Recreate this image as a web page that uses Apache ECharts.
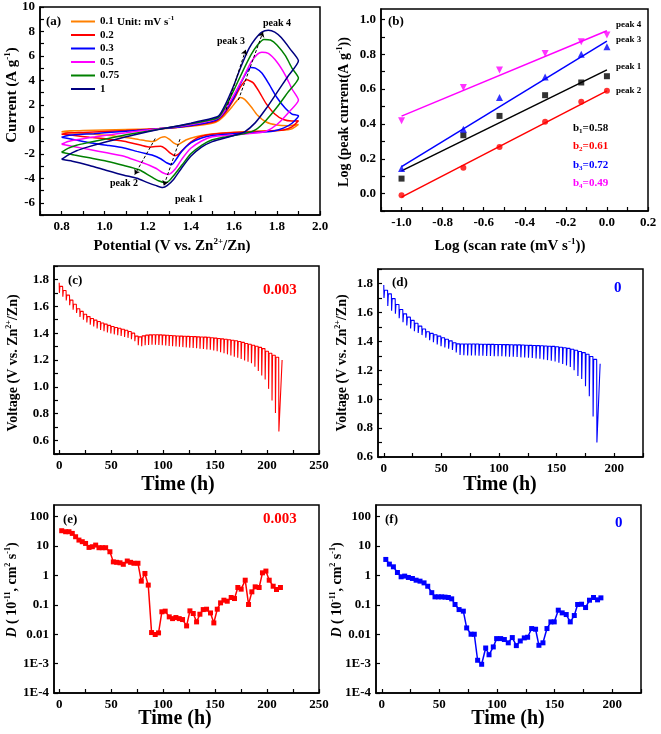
<!DOCTYPE html>
<html><head><meta charset="utf-8">
<script src="https://cdn.jsdelivr.net/npm/echarts@6/dist/echarts.min.js"></script>
<style>html,body{margin:0;padding:0;background:#fff}#c{width:661px;height:734px}</style>
</head><body><div id="c"></div>
<script>
// ---------------- (a) CV curves [potential V, current A/g] ----------------
const cvNames = ['0.1', '0.2', '0.3', '0.5', '0.75', '1'];
const cv01 = [[0.8,-0.2],[0.84,-0.12],[0.9,-0.1],[1.0,-0.06],[1.1,-0.02],[1.2,0.03],[1.3,0.1],[1.4,0.25],[1.5,0.5],[1.53,0.72],[1.56,1.2],[1.59,1.8],[1.61,2.25],[1.63,2.6],[1.65,2.45],[1.68,1.85],[1.71,1.15],[1.75,0.6],[1.8,0.35],[1.85,0.3],[1.9,0.4],
  [1.87,0.05],[1.82,-0.08],[1.75,-0.12],[1.65,-0.2],[1.55,-0.3],[1.47,-0.45],[1.42,-0.62],[1.38,-0.85],[1.355,-1.1],[1.342,-1.25],[1.32,-1.1],[1.3,-0.8],[1.28,-0.6],[1.26,-0.68],[1.24,-0.9],[1.225,-1.0],[1.2,-0.95],[1.16,-0.84],[1.09,-0.65],[1.01,-0.49],[0.93,-0.35],[0.86,-0.27],[0.8,-0.2]];
const cv02 = [[0.8,-0.4],[0.83,-0.3],[0.9,-0.25],[1.0,-0.17],[1.1,-0.1],[1.2,0.0],[1.3,0.12],[1.4,0.3],[1.5,0.58],[1.53,0.82],[1.56,1.35],[1.6,2.45],[1.63,3.45],[1.66,4.05],[1.69,3.8],[1.72,3.0],[1.75,2.1],[1.79,1.25],[1.83,0.8],[1.87,0.68],[1.9,0.7],
  [1.87,0.2],[1.83,-0.05],[1.75,-0.15],[1.6,-0.25],[1.5,-0.4],[1.44,-0.62],[1.4,-1.05],[1.37,-1.55],[1.345,-2.0],[1.327,-2.15],[1.305,-1.95],[1.28,-1.55],[1.26,-1.38],[1.235,-1.4],[1.21,-1.45],[1.17,-1.3],[1.09,-0.97],[1.01,-0.78],[0.93,-0.65],[0.86,-0.5],[0.8,-0.4]];
const cv03 = [[0.8,-0.65],[0.83,-0.5],[0.88,-0.42],[0.95,-0.35],[1.05,-0.22],[1.15,-0.1],[1.25,0.05],[1.35,0.2],[1.45,0.45],[1.5,0.65],[1.53,0.9],[1.56,1.5],[1.6,2.6],[1.63,3.7],[1.66,4.7],[1.68,5.05],[1.7,5.0],[1.73,4.6],[1.76,3.8],[1.8,2.6],[1.84,1.7],[1.87,1.25],[1.9,1.1],
  [1.87,0.5],[1.83,0.1],[1.78,-0.15],[1.7,-0.25],[1.6,-0.35],[1.5,-0.5],[1.45,-0.7],[1.4,-1.1],[1.36,-1.75],[1.33,-2.5],[1.312,-2.87],[1.29,-2.75],[1.26,-2.4],[1.22,-2.1],[1.195,-2.0],[1.15,-1.8],[1.09,-1.52],[1.01,-1.3],[0.93,-1.1],[0.86,-0.85],[0.8,-0.65]];
const cv05 = [[0.8,-1.22],[0.83,-1.0],[0.87,-0.85],[0.92,-0.7],[1.0,-0.5],[1.1,-0.28],[1.2,-0.05],[1.3,0.15],[1.4,0.4],[1.5,0.75],[1.53,0.95],[1.56,1.6],[1.6,2.8],[1.64,4.1],[1.68,5.5],[1.71,6.15],[1.73,6.3],[1.76,6.2],[1.8,5.5],[1.84,4.4],[1.87,3.3],[1.9,2.4],
  [1.85,1.3],[1.8,0.4],[1.75,-0.15],[1.7,-0.3],[1.6,-0.45],[1.5,-0.6],[1.45,-0.95],[1.4,-1.55],[1.36,-2.4],[1.33,-3.2],[1.296,-3.69],[1.27,-3.55],[1.24,-3.2],[1.21,-2.95],[1.18,-2.75],[1.13,-2.45],[1.09,-2.2],[1.01,-1.92],[0.93,-1.65],[0.86,-1.42],[0.8,-1.22]];
const cv075 = [[0.8,-1.87],[0.83,-1.55],[0.87,-1.3],[0.92,-1.1],[1.0,-0.8],[1.1,-0.45],[1.2,-0.15],[1.3,0.15],[1.4,0.45],[1.5,0.8],[1.53,1.0],[1.56,1.8],[1.6,3.2],[1.64,4.7],[1.68,6.1],[1.71,6.9],[1.74,7.35],[1.77,7.3],[1.8,6.9],[1.84,6.0],[1.87,5.0],[1.9,4.2],
  [1.85,3.0],[1.8,1.8],[1.75,0.75],[1.7,-0.05],[1.65,-0.35],[1.6,-0.5],[1.55,-0.65],[1.5,-0.85],[1.45,-1.3],[1.4,-2.0],[1.36,-2.9],[1.32,-3.8],[1.3,-4.2],[1.283,-4.35],[1.25,-4.2],[1.21,-3.8],[1.16,-3.3],[1.09,-2.95],[1.01,-2.6],[0.93,-2.33],[0.86,-2.1],[0.8,-1.87]];
const cv1 = [[0.8,-2.45],[0.83,-2.1],[0.87,-1.75],[0.92,-1.45],[1.0,-1.05],[1.1,-0.6],[1.2,-0.2],[1.3,0.15],[1.4,0.5],[1.5,0.9],[1.53,1.1],[1.56,2.0],[1.6,3.6],[1.63,5.0],[1.67,6.6],[1.7,7.4],[1.73,7.95],[1.76,8.1],[1.79,7.95],[1.82,7.5],[1.86,6.6],[1.9,5.6],
  [1.85,4.3],[1.8,3.0],[1.75,1.7],[1.7,0.55],[1.65,-0.2],[1.6,-0.5],[1.55,-0.75],[1.5,-1.0],[1.45,-1.45],[1.4,-2.2],[1.36,-3.1],[1.32,-4.1],[1.29,-4.6],[1.27,-4.75],[1.24,-4.6],[1.2,-4.35],[1.15,-4.0],[1.09,-3.75],[1.01,-3.36],[0.93,-2.95],[0.85,-2.6],[0.8,-2.45]];
const peakArrows = [[[1.564,1.6],[1.655,6.5]], [[1.621,2.4],[1.735,7.95]], [[1.35,-0.8],[1.275,-4.6]], [[1.235,-0.75],[1.14,-3.7]]];
const aXLabels = [0.8,1.0,1.2,1.4,1.6,1.8,2.0];
const aXTicks = [0.7,0.8,0.9,1.0,1.1,1.2,1.3,1.4,1.5,1.6,1.7,1.8,1.9,2.0];
const aYLabels = [-6,-4,-2,0,2,4,6,8,10];
const aYTicks = [-7,-6,-5,-4,-3,-2,-1,0,1,2,3,4,5,6,7,8,9,10];

// ---------------- (b) log peak current vs log scan rate ----------------
const logScan = [-1, -0.699, -0.523, -0.301, -0.125, 0];
const peak1Log = [0.086, 0.335, 0.446, 0.565, 0.638, 0.674];
const peak2Log = [-0.01, 0.149, 0.268, 0.412, 0.527, 0.59];
const peak3Log = [0.144, 0.37, 0.552, 0.67, 0.80, 0.843];
const peak4Log = [0.418, 0.609, 0.709, 0.805, 0.872, 0.91];
const bSlope = [0.58, 0.61, 0.72, 0.49];
const bIntercept = [0.71, 0.59, 0.875, 0.935];
const bXLabels = [-1.0,-0.8,-0.6,-0.4,-0.2,0.0,0.2];
const bXTicks = [-1.1,-1.0,-0.9,-0.8,-0.7,-0.6,-0.5,-0.4,-0.3,-0.2,-0.1,0.0,0.1,0.2];
const bYLabels = [0.0,0.2,0.4,0.6,0.8,1.0];
const bYTicks = [-0.1,0.0,0.1,0.2,0.3,0.4,0.5,0.6,0.7,0.8,0.9,1.0];

// ---------------- (c)/(d) GITT voltage profiles ----------------
const pulseTimes = [0,3.3,6.6,9.9,13.2,16.5,19.8,23.1,26.4,29.7,33,36.3,39.6,42.9,46.2,49.5,52.8,56.1,59.4,62.7,66,69.3,72.6,75.9,79.2,82.5,85.8,89.1,92.4,95.7,99,102.3,105.6,108.9,112.2,115.5,118.8,122.1,125.4,128.7,132,135.3,138.6,141.9,145.2,148.5,151.8,155.1,158.4,161.7,165,168.3,171.6,174.9,178.2,181.5,184.8,188.1,191.4,194.7,198,201.3,204.6,207.9,211.2];
const cUpper = [1.775,1.748,1.718,1.683,1.646,1.615,1.582,1.562,1.541,1.523,1.509,1.497,1.487,1.476,1.467,1.458,1.449,1.442,1.436,1.429,1.421,1.412,1.400,1.378,1.372,1.38,1.385,1.387,1.388,1.388,1.387,1.385,1.384,1.382,1.381,1.379,1.378,1.377,1.376,1.375,1.374,1.372,1.371,1.370,1.369,1.366,1.363,1.360,1.357,1.354,1.351,1.347,1.343,1.338,1.331,1.323,1.317,1.310,1.302,1.294,1.285,1.265,1.25,1.235,1.22];
const cLower = [1.70,1.672,1.643,1.608,1.574,1.551,1.52,1.50,1.479,1.462,1.449,1.435,1.424,1.414,1.405,1.398,1.391,1.385,1.379,1.372,1.365,1.355,1.34,1.31,1.303,1.31,1.312,1.313,1.313,1.312,1.31,1.308,1.305,1.303,1.300,1.298,1.296,1.294,1.292,1.29,1.287,1.284,1.282,1.279,1.276,1.271,1.265,1.258,1.251,1.242,1.234,1.225,1.217,1.208,1.197,1.187,1.176,1.150,1.118,1.085,1.055,0.985,0.898,0.806,0.667];
const cEnd = [214.5, 1.2];
const dUpper = [1.79,1.753,1.728,1.695,1.655,1.62,1.59,1.567,1.545,1.525,1.505,1.485,1.466,1.455,1.445,1.436,1.425,1.414,1.403,1.39,1.382,1.381,1.381,1.381,1.381,1.381,1.380,1.380,1.379,1.379,1.378,1.378,1.377,1.377,1.376,1.375,1.375,1.374,1.373,1.372,1.371,1.370,1.369,1.368,1.366,1.365,1.362,1.359,1.355,1.351,1.345,1.338,1.33,1.322,1.31,1.295,1.275];
const dLower = [1.70,1.645,1.612,1.59,1.56,1.532,1.51,1.488,1.47,1.457,1.443,1.425,1.408,1.393,1.378,1.366,1.357,1.348,1.34,1.322,1.306,1.303,1.302,1.302,1.302,1.301,1.300,1.299,1.298,1.297,1.296,1.296,1.295,1.294,1.293,1.291,1.289,1.288,1.286,1.284,1.282,1.279,1.275,1.27,1.265,1.26,1.252,1.243,1.232,1.222,1.2,1.16,1.14,1.09,1.02,0.88,0.70];
const dEnd = [187.8, 1.245];
const vYLabels = [0.6,0.8,1.0,1.2,1.4,1.6,1.8];
const cYTicks = [0.5,0.6,0.7,0.8,0.9,1.0,1.1,1.2,1.3,1.4,1.5,1.6,1.7,1.8,1.9];
const dYTicks = [0.6,0.7,0.8,0.9,1.0,1.1,1.2,1.3,1.4,1.5,1.6,1.7,1.8,1.9];
const timeLabels250 = [0,50,100,150,200,250];
const timeTicks250 = [0,25,50,75,100,125,150,175,200,225,250];
const timeLabels200 = [0,50,100,150,200];
const timeTicks225 = [0,25,50,75,100,125,150,175,200,225];

// ---------------- (e)/(f) diffusion coefficients ----------------
const eTime = [2.4,6.2,9.4,12.6,15.8,19.0,22.2,25.4,28.7,31.9,35.1,38.3,41.5,44.7,48.8,52.1,55.3,58.5,61.7,65.5,68.7,71.9,75.8,79.0,82.5,85.7,88.9,92.4,95.6,98.8,102.0,105.9,109.1,112.3,115.5,118.7,122.6,125.8,129.0,132.2,135.4,138.6,141.8,145.6,148.8,152.1,155.3,158.5,161.7,165.5,168.7,171.9,175.1,179.0,182.2,185.4,188.6,192.4,195.6,198.9,202.1,205.9,209.1,212.9];
const eD = [33.3,30.8,30.8,27,20.8,16,14.1,12.3,9.0,9.5,10.8,8.8,8.8,8.8,6.4,2.9,2.8,2.7,2.4,3.1,2.8,2.6,2.6,0.64,1.17,0.47,0.0114,0.0098,0.0111,0.058,0.061,0.039,0.034,0.037,0.034,0.0316,0.0192,0.0624,0.0507,0.0263,0.048,0.069,0.071,0.053,0.0243,0.071,0.117,0.144,0.133,0.178,0.164,0.39,0.342,0.69,0.103,0.277,0.41,0.39,1.23,1.41,0.69,0.43,0.333,0.39];
const fTime = [3.5,6.6,10.1,13.6,16.8,19.9,23.1,26.6,29.8,33.2,36.7,39.9,43.4,46.2,49.1,52.0,54.9,57.8,60.7,63.6,67.1,70.8,73.7,77.5,80.3,83.2,86.7,90.2,93.1,96.8,99.7,103.2,106.4,109.8,113.3,116.8,120.2,123.7,126.6,130.1,133.5,136.4,139.9,143.4,146.8,149.7,153.2,156.6,160.1,163.6,167.1,170.0,173.4,176.9,180.3,183.8,187.3,190.2];
const fD = [3.51,2.43,1.97,1.26,0.90,0.95,0.855,0.79,0.69,0.64,0.56,0.43,0.26,0.187,0.187,0.187,0.183,0.178,0.16,0.103,0.069,0.061,0.0164,0.0100,0.0100,0.0013,0.00095,0.0034,0.0020,0.0037,0.0071,0.0071,0.0066,0.0051,0.0077,0.0041,0.0059,0.0075,0.0079,0.0156,0.0148,0.0042,0.0051,0.0156,0.0263,0.0263,0.0658,0.0533,0.0468,0.0263,0.0433,0.103,0.105,0.081,0.144,0.178,0.148,0.173];

// ---------------- build ----------------
const FONT = '"Liberation Serif","Times New Roman",serif';
const fmt1 = v => (Math.round(v * 10) / 10).toFixed(1);
const fmt0 = v => String(Math.round(v));
const logFmt = v => { const e = Math.round(Math.log10(v)); return e >= -2 ? (e >= 0 ? String(Math.pow(10, e)) : Math.pow(10, e).toFixed(-e)) : '1E' + e; };

function valAxis(gi, min, max, labels, ticks, fmt) {
  return {
    type: 'value', gridIndex: gi, min: min, max: max,
    axisLine: { show: true, onZero: false, lineStyle: { color: '#000', width: 1.5 } },
    axisTick: { show: true, inside: true, length: 4, customValues: ticks, lineStyle: { color: '#000', width: 1.2 } },
    axisLabel: { show: true, customValues: labels, formatter: fmt, fontFamily: FONT, fontWeight: 'bold', fontSize: 13, color: '#000', margin: 5 },
    splitLine: { show: false }
  };
}
function logAxis(gi) {
  return {
    type: 'log', logBase: 10, gridIndex: gi, min: 1e-4, max: 250,
    axisLine: { show: true, onZero: false, lineStyle: { color: '#000', width: 1.5 } },
    axisTick: { show: true, inside: true, length: 4, lineStyle: { color: '#000', width: 1.2 } },
    axisLabel: { show: true, formatter: logFmt, showMaxLabel: false, fontFamily: FONT, fontWeight: 'bold', fontSize: 13, color: '#000', margin: 5 },
    splitLine: { show: false }
  };
}
function gitt(times, up, low, end) {
  const pts = [];
  for (let i = 0; i < up.length; i++) {
    pts.push([times[i], up[i]]);
    pts.push([times[i] + 0.2, low[i]]);
    if (i + 1 < up.length) pts.push([times[i] + 0.7, up[i + 1]]);
  }
  pts.push(end);
  return pts;
}
const pair = (xs, ys) => xs.map((x, i) => [x, ys[i]]);

const cvData = [cv01, cv02, cv03, cv05, cv075, cv1];
const cvColors = ['#FF8000', '#FF0000', '#0000FF', '#FF00FF', '#008000', '#000080'];
const bColors = ['#000000', '#FF0000', '#0000FF', '#FF00FF'];
const bPeaks = [peak1Log, peak2Log, peak3Log, peak4Log];
const bSymbols = ['rect', 'circle', 'triangle', 'triangle'];

const series = [];
cvData.forEach((d, i) => series.push({
  name: cvNames[i], type: 'line', xAxisIndex: 0, yAxisIndex: 0, data: d, symbol: 'none', smooth: 0.2,
  lineStyle: { color: cvColors[i], width: 1.5 }, itemStyle: { color: cvColors[i] }, z: 2 + i
}));
series.push({
  type: 'lines', coordinateSystem: 'cartesian2d', xAxisIndex: 0, yAxisIndex: 0, z: 20,
  symbol: ['none', 'arrow'], symbolSize: 5,
  lineStyle: { color: '#000', width: 1, type: [3, 2], opacity: 1 },
  data: peakArrows.map(c => ({ coords: c }))
});
bPeaks.forEach((d, i) => {
  series.push({
    type: 'scatter', xAxisIndex: 1, yAxisIndex: 1, data: pair(logScan, d),
    symbol: bSymbols[i], symbolSize: i >= 2 ? 7 : 6, symbolRotate: i === 3 ? 180 : 0,
    itemStyle: { color: bColors[i] }, z: 5
  });
  series.push({
    type: 'line', xAxisIndex: 1, yAxisIndex: 1, symbol: 'none',
    data: [[logScan[0], bIntercept[i] + bSlope[i] * logScan[0]], [logScan[5], bIntercept[i] + bSlope[i] * logScan[5]]],
    lineStyle: { color: bColors[i], width: 1.5 }, z: 4
  });
});
series.push({ type: 'line', xAxisIndex: 2, yAxisIndex: 2, symbol: 'none', data: gitt(pulseTimes, cUpper, cLower, cEnd), lineStyle: { color: '#FF0000', width: 1.1 } });
series.push({ type: 'line', xAxisIndex: 3, yAxisIndex: 3, symbol: 'none', data: gitt(pulseTimes, dUpper, dLower, dEnd), lineStyle: { color: '#0000FF', width: 1.1 } });
series.push({ type: 'line', xAxisIndex: 4, yAxisIndex: 4, symbol: 'rect', symbolSize: 5, data: pair(eTime, eD), lineStyle: { color: '#FF0000', width: 1.5 }, itemStyle: { color: '#FF0000' } });
series.push({ type: 'line', xAxisIndex: 5, yAxisIndex: 5, symbol: 'rect', symbolSize: 5, data: pair(fTime, fD), lineStyle: { color: '#0000FF', width: 1.5 }, itemStyle: { color: '#0000FF' } });

// text helpers
function rs(size, extra) { return Object.assign({ fontFamily: FONT, fontWeight: 'bold', fontSize: size, lineHeight: size + 3 }, extra || {}); }
function richStyles(size, color) {
  const sub = Math.round(size * 0.6);
  return {
    a: rs(size, { fill: color, color: color }),
    i: rs(size, { fill: color, color: color, fontStyle: 'italic' }),
    p: { fontFamily: FONT, fontWeight: 'bold', fontSize: sub, lineHeight: sub, verticalAlign: 'top', fill: color, color: color },
    s: { fontFamily: FONT, fontWeight: 'bold', fontSize: sub, lineHeight: sub, verticalAlign: 'bottom', fill: color, color: color }
  };
}
function txt(x, y, text, size, color, align, rot) {
  return {
    type: 'text', x: x, y: y, rotation: rot || 0, z: 100,
    style: { text: text, rich: richStyles(size, color || '#000'), fill: color || '#000', align: align || 'left', verticalAlign: 'middle',
      fontFamily: FONT, fontWeight: 'bold', fontSize: size }
  };
}
const R = Math.PI / 2;
const graphic = [
  txt(46, 22, '{a|(a)}', 13),
  txt(117, 22, '{a|Unit: mV s}{p|-1}', 11),
  txt(217, 41, '{a|peak 3}', 10), txt(263, 23, '{a|peak 4}', 10),
  txt(110, 183, '{a|peak 2}', 10), txt(175, 199, '{a|peak 1}', 10),
  txt(12, 95, '{a|Current (A g}{p|-1}{a|)}', 15, '#000', 'center', R),
  txt(172, 246, '{a|Potential (V vs. Zn}{p|2+}{a|/Zn)}', 15, '#000', 'center'),
  txt(388, 22, '{a|(b)}', 13),
  txt(616, 25, '{a|peak 4}', 9), txt(616, 40, '{a|peak 3}', 9), txt(616, 67, '{a|peak 1}', 9), txt(616, 91, '{a|peak 2}', 9),
  txt(573, 128, '{a|b}{s|1}{a|=0.58}', 11, bColors[0]), txt(573, 146, '{a|b}{s|2}{a|=0.61}', 11, bColors[1]),
  txt(573, 165, '{a|b}{s|3}{a|=0.72}', 11, bColors[2]), txt(573, 183, '{a|b}{s|4}{a|=0.49}', 11, bColors[3]),
  txt(344, 112, '{a|Log (peak current(A g}{p|-1}{a|))}', 14, '#000', 'center', R),
  txt(510, 246, '{a|Log (scan rate (mV s}{p|-1}{a|))}', 15, '#000', 'center'),
  txt(68, 281, '{a|(c)}', 13), txt(263, 290, '{a|0.003}', 15, '#FF0000'),
  txt(13, 363, '{a|Voltage (V vs. Zn}{p|2+}{a|/Zn)}', 14, '#000', 'center', R),
  txt(178, 485, '{a|Time (h)}', 20, '#000', 'center'),
  txt(392, 283, '{a|(d)}', 13), txt(614, 288, '{a|0}', 15, '#0000FF'),
  txt(342, 363, '{a|Voltage (V vs. Zn}{p|2+}{a|/Zn)}', 14, '#000', 'center', R),
  txt(500, 485, '{a|Time (h)}', 20, '#000', 'center'),
  txt(63, 520, '{a|(e)}', 13), txt(263, 519, '{a|0.003}', 15, '#FF0000'),
  txt(12, 590, '{i|D}{a| ( 10}{p|-11}{a|, cm}{p|2}{a| s}{p|-1}{a|)}', 14, '#000', 'center', R),
  txt(175, 719, '{a|Time (h)}', 20, '#000', 'center'),
  txt(385, 520, '{a|(f)}', 13), txt(615, 523, '{a|0}', 15, '#0000FF'),
  txt(337, 590, '{i|D}{a| ( 10}{p|-11}{a|, cm}{p|2}{a| s}{p|-1}{a|)}', 14, '#000', 'center', R),
  txt(508, 719, '{a|Time (h)}', 20, '#000', 'center')
];

const gridStyle = { show: true, borderColor: '#000', borderWidth: 1.5, backgroundColor: 'transparent', containLabel: false };
const option = {
  animation: false,
  backgroundColor: '#fff',
  grid: [
    Object.assign({ left: 40, top: 7, width: 280, height: 208 }, gridStyle),
    Object.assign({ left: 381, top: 9, width: 267, height: 202 }, gridStyle),
    Object.assign({ left: 54, top: 266, width: 265, height: 188 }, gridStyle),
    Object.assign({ left: 378, top: 269, width: 265, height: 188 }, gridStyle),
    Object.assign({ left: 54, top: 505, width: 265, height: 188 }, gridStyle),
    Object.assign({ left: 376, top: 505, width: 265, height: 188 }, gridStyle)
  ],
  xAxis: [
    valAxis(0, 0.7, 2.0, aXLabels, aXTicks, fmt1),
    valAxis(1, -1.1, 0.2, bXLabels, bXTicks, fmt1),
    valAxis(2, -5, 250, timeLabels250, timeTicks250, fmt0),
    valAxis(3, -5, 225, timeLabels200, timeTicks225, fmt0),
    valAxis(4, -5, 250, timeLabels250, timeTicks250, fmt0),
    valAxis(5, -5, 225, timeLabels200, timeTicks225, fmt0)
  ],
  yAxis: [
    valAxis(0, -7, 10, aYLabels, aYTicks, fmt0),
    valAxis(1, -0.1, 1.06, bYLabels, bYTicks, fmt1),
    valAxis(2, 0.5, 1.9, vYLabels, cYTicks, fmt1),
    valAxis(3, 0.6, 1.9, vYLabels, dYTicks, fmt1),
    logAxis(4),
    logAxis(5)
  ],
  legend: {
    data: cvNames.map(n => ({ name: n, icon: 'rect' })), left: 71, top: 16, orient: 'vertical', padding: 0,
    itemWidth: 24, itemHeight: 2, itemGap: 2.5,
    textStyle: { fontFamily: FONT, fontWeight: 'bold', fontSize: 11, color: '#000', lineHeight: 11 }
  },
  graphic: graphic,
  series: series
};
const chart = echarts.init(document.getElementById('c'), null, { renderer: 'canvas' });
chart.setOption(option);
</script></body></html>
